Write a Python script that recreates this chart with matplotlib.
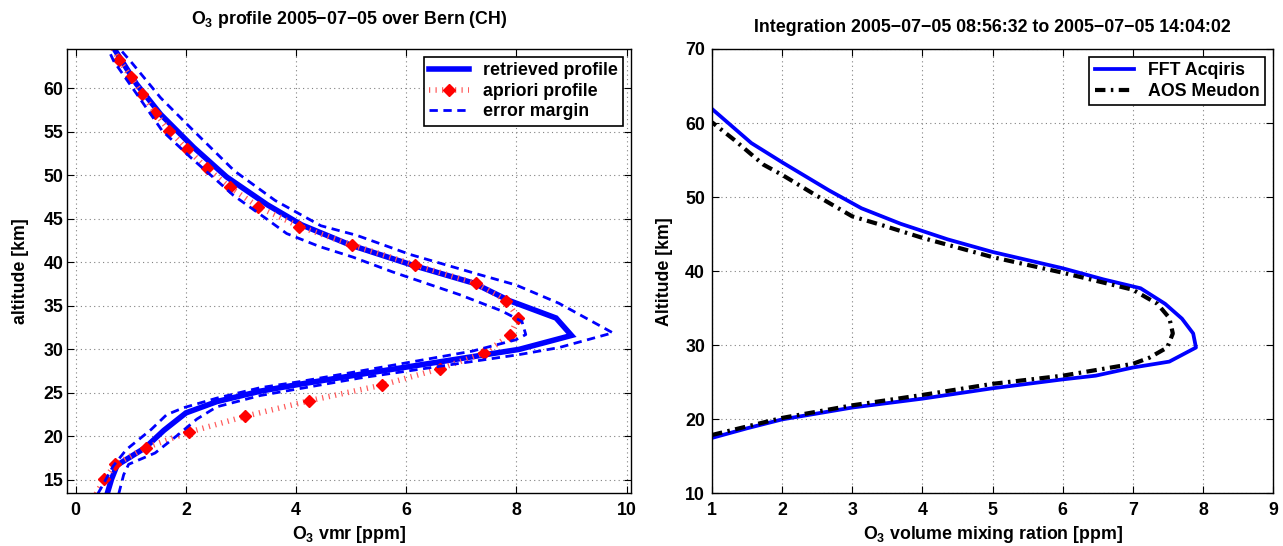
import numpy as np
import matplotlib
matplotlib.use("Agg")
import matplotlib.pyplot as plt

plt.rcParams['font.family'] = ['Liberation Sans', 'DejaVu Sans']
plt.rcParams['font.weight'] = 'bold'
plt.rcParams['axes.labelweight'] = 'bold'
plt.rcParams['font.size'] = 12.8
plt.rcParams['mathtext.fontset'] = 'custom'
plt.rcParams['mathtext.rm'] = 'Liberation Sans:bold'
plt.rcParams['mathtext.default'] = 'rm'

# left panel: O3 profile over Bern
z_apriori = [13.4, 15.1, 16.8, 18.7, 20.5, 22.3, 24.1, 25.9, 27.8, 29.6, 31.6, 33.6, 35.6,
             37.6, 39.7, 42.0, 44.1, 46.4, 48.6, 50.8, 53.0, 55.1, 57.2, 59.3, 61.3, 63.2, 65.2]
vmr_apriori = [0.37, 0.52, 0.72, 1.27, 2.06, 3.07, 4.24, 5.56, 6.62, 7.42, 7.88, 8.03, 7.82,
               7.26, 6.16, 5.02, 4.06, 3.31, 2.80, 2.38, 2.02, 1.70, 1.44, 1.21, 1.00, 0.79, 0.62]

z_retrieved = [13.4, 15.1, 16.7, 18.7, 20.7, 22.7, 24.0, 25.2, 26.0, 27.3, 30.0, 31.6,
               33.6, 35.6, 37.6, 39.6, 42.0, 44.3, 46.6, 49.8, 53.2, 57.0, 60.5, 64.8]
vmr_retrieved = [0.57, 0.65, 0.75, 1.26, 1.60, 2.00, 2.56, 3.35, 4.07, 5.33, 8.05, 9.00,
                 8.72, 7.87, 7.23, 6.15, 4.98, 4.10, 3.48, 2.74, 2.14, 1.54, 1.10, 0.67]

z_err_lo = [13.4, 15.1, 16.6, 18.5, 20.8, 22.5, 23.3, 24.4, 25.6, 26.3, 27.7, 29.8, 31.1, 31.7,
            33.2, 34.4, 36.3, 38.9, 40.6, 41.8, 43.3, 45.0, 47.7, 49.4, 51.9, 55.1, 59.3, 63.1, 65.0]
vmr_err_lo = [0.40, 0.55, 0.68, 0.92, 1.37, 1.65, 1.96, 2.56, 3.35, 4.07, 5.33, 7.20, 7.99, 8.17,
              8.10, 7.74, 6.96, 5.75, 5.03, 4.43, 3.83, 3.46, 2.86, 2.56, 2.11, 1.57, 1.11, 0.69, 0.55]

z_err_hi = [13.4, 15.6, 16.8, 18.1, 20.2, 22.0, 23.4, 24.7, 25.5, 26.7, 29.4, 30.2, 31.9, 35.3,
            37.4, 38.6, 40.9, 43.1, 44.2, 47.1, 50.5, 55.1, 58.9, 62.9, 64.8]
vmr_err_hi = [0.78, 0.87, 0.96, 1.44, 1.86, 2.20, 2.56, 3.35, 4.07, 5.15, 8.05, 8.77, 9.75, 8.77,
              7.99, 7.32, 6.07, 5.10, 4.45, 3.62, 2.88, 2.14, 1.54, 1.02, 0.76]

# right panel: FFT vs AOS
z_fft = [17.5, 18.8, 20.0, 21.6, 22.8, 24.2, 25.4, 25.9, 27.0, 27.8, 29.7, 31.6, 33.6, 35.6,
         37.7, 38.9, 40.4, 42.6, 44.3, 46.4, 48.5, 50.9, 54.7, 57.3, 61.9]
vmr_fft = [1.0, 1.5, 2.0, 3.0, 4.0, 5.0, 6.0, 6.47, 7.0, 7.52, 7.90, 7.86, 7.70, 7.46,
           7.11, 6.58, 6.0, 5.0, 4.36, 3.69, 3.13, 2.67, 2.0, 1.56, 1.0]

z_aos = [17.9, 20.2, 21.9, 23.3, 24.8, 25.9, 27.5, 28.3, 29.7, 31.6, 33.7, 35.6, 37.5, 39.8,
         41.9, 44.5, 46.2, 47.4, 50.2, 53.0, 54.4, 57.7, 60.1]
vmr_aos = [1.0, 2.0, 3.0, 4.0, 5.0, 6.0, 7.0, 7.23, 7.49, 7.57, 7.52, 7.35, 7.0, 6.0,
           5.0, 4.0, 3.43, 3.0, 2.49, 2.0, 1.73, 1.32, 1.0]

fig = plt.figure(figsize=(12.83, 5.46), dpi=100)
ax1 = fig.add_axes([0.0526, 0.0962, 0.4392, 0.8141])
ax2 = fig.add_axes([0.555, 0.0962, 0.4373, 0.8141])


def style_axes(ax):
    ax.grid(True, color='#808080', linestyle=(0, (1, 3)), linewidth=0.8)
    ax.tick_params(direction='in', top=True, right=True, length=5, width=0.8)
    ax.tick_params(axis='x', pad=6)
    ax.tick_params(axis='y', pad=3)
    for lab in ax.get_xticklabels() + ax.get_yticklabels():
        lab.set_fontweight('bold')
    for s in ax.spines.values():
        s.set_linewidth(1.0)


l1, = ax1.plot(vmr_retrieved, z_retrieved, color='#0000ff', lw=4, solid_joinstyle='miter')
l2, = ax1.plot(vmr_apriori, z_apriori, color='#ff5a5a', lw=4, dash_capstyle='butt',
               linestyle=(0, (0.22, 0.95)), marker='D', markersize=6, markerfacecolor='#ff0000',
               markeredgecolor='#ff0000', markevery=list(range(1, len(z_apriori) - 1)))
l3, = ax1.plot(vmr_err_lo, z_err_lo, color='#0000ff', lw=2, linestyle=(0, (3, 2)))
ax1.plot(vmr_err_hi, z_err_hi, color='#0000ff', lw=2, linestyle=(0, (3, 2)))

ax1.set_xlim(-0.15, 10.08)
ax1.set_ylim(13.45, 64.5)
ax1.set_xticks([0, 2, 4, 6, 8, 10])
ax1.set_yticks([15, 20, 25, 30, 35, 40, 45, 50, 55, 60])
style_axes(ax1)
ax1.set_xlabel('O$_3$ vmr [ppm]', labelpad=4)
ax1.set_ylabel('altitude [km]')
ax1.yaxis.set_label_coords(-0.069, 0.5)
leg1 = ax1.legend([l1, l2, l3], ['retrieved profile', 'apriori profile', 'error margin'],
                  loc='upper right', fancybox=False, edgecolor='black', framealpha=1,
                  borderaxespad=0.45, handlelength=2.2, labelspacing=0.2, borderpad=0.3)
leg1.get_frame().set_linewidth(1.2)

f1, = ax2.plot(vmr_fft, z_fft, color='#0000ff', lw=2.7)
f2, = ax2.plot(vmr_aos, z_aos, color='black', lw=3, linestyle=(0, (2.5, 1.3, 0.6, 1.3)))
ax2.set_xlim(1, 9)
ax2.set_ylim(10, 70)
ax2.set_xticks(range(1, 10))
ax2.set_yticks(range(10, 71, 10))
style_axes(ax2)
ax2.tick_params(axis='y', pad=5)
ax2.set_xlabel('O$_3$ volume mixing ration [ppm]', labelpad=4)
ax2.set_ylabel('Altitude [km]')
ax2.yaxis.set_label_coords(-0.069, 0.5)
leg2 = ax2.legend([f1, f2], ['FFT Acqiris', 'AOS Meudon'], loc='upper right', fancybox=False,
                  edgecolor='black', framealpha=1, borderaxespad=0.45, handlelength=2.2,
                  labelspacing=0.2, borderpad=0.3)
leg2.get_frame().set_linewidth(1.2)

fig.text(349 / 1283, 1 - 19 / 546, 'O$_3$ profile 2005\u221207\u221205 over Bern (CH)',
         ha='center', va='center')
fig.text(992.5 / 1283, 1 - 27 / 546,
         'Integration 2005\u221207\u221205 08:56:32 to 2005\u221207\u221205 14:04:02',
         ha='center', va='center')

fig.savefig('out.png', dpi=100)
